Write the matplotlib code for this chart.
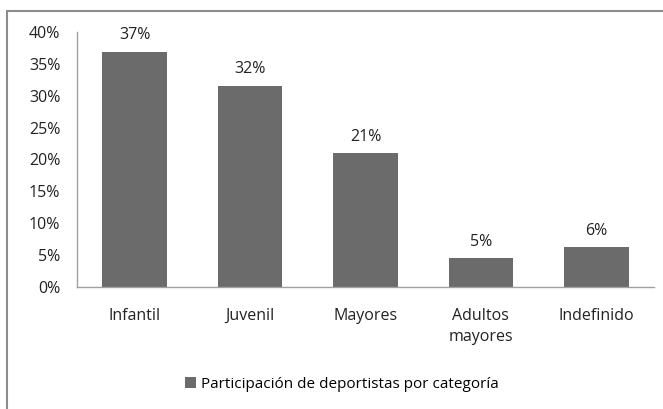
import matplotlib.pyplot as plt
from matplotlib.patches import Rectangle
from matplotlib.ticker import PercentFormatter

# data
categories = ['Infantil', 'Juvenil', 'Mayores', 'Adultos\nmayores', 'Indefinido']
values = [36.9, 31.6, 21.0, 4.5, 6.3]
labels = ['37%', '32%', '21%', '5%', '6%']
series_name = 'Participación de deportistas por categoría'

plt.rcParams['font.family'] = ['Open Sans', 'DejaVu Sans']
plt.rcParams['font.size'] = 11.5

fig = plt.figure(figsize=(6.63, 4.09), dpi=100)
ax = fig.add_axes([77 / 663, 1 - 287 / 409, (654 - 77) / 663, (287 - 32) / 409])

bar_color = '#6b6b6b'
x = range(len(categories))
bars = ax.bar(x, values, width=0.56, color=bar_color, label=series_name)
for rect, lab in zip(bars, labels):
    ax.text(rect.get_x() + rect.get_width() / 2, rect.get_height() + 1.3, lab,
            ha='center', va='bottom', fontsize=11.5, color='#222222')

ax.set_xlim(-0.5, len(categories) - 0.5)
ax.set_ylim(0, 40)
ax.set_yticks(range(0, 41, 5))
ax.yaxis.set_major_formatter(PercentFormatter(decimals=0))
ax.set_xticks(list(x))
ax.set_xticklabels(categories, linespacing=1.45)
ax.tick_params(axis='both', length=0, colors='#222222', labelsize=11.5)
ax.tick_params(axis='x', pad=15)
ax.tick_params(axis='y', pad=12)
for s in ['top', 'right']:
    ax.spines[s].set_visible(False)
for s in ['left', 'bottom']:
    ax.spines[s].set_color('#a0a0a0')
    ax.spines[s].set_linewidth(1)

leg = fig.legend(handles=[bars], labels=[series_name], loc='center',
                 bbox_to_anchor=(342 / 663, 1 - 384 / 409), frameon=False,
                 handlelength=0.7, handleheight=0.7, handletextpad=0.3, fontsize=11)

# outer chart border
fig.patches.append(Rectangle((7 / 663, -0.1), 1.1, 1 - 11 / 409 + 0.1,
                             transform=fig.transFigure, fill=False,
                             edgecolor='#8c8c8c', linewidth=1.5))

fig.savefig('out.png', dpi=100)
